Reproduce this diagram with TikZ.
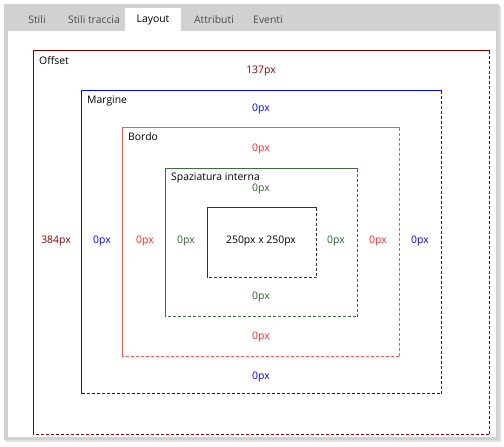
\documentclass[tikz,border=0pt]{standalone}
\usepackage{fontspec}
\setmainfont{Open Sans}
\begin{document}
\begin{tikzpicture}[x=1pt,y=-1pt,
  lbl/.style={font=\fontsize{10.4}{12}\selectfont,inner sep=0pt,anchor=center},
  ttl/.style={font=\fontsize{10.4}{12}\selectfont,inner sep=0pt,anchor=west,text=black},
  tab/.style={font=\fontsize{10.4}{12}\selectfont,inner sep=0pt,text=black!70},
  solidpart/.style={line width=1.2pt},
  dashpart/.style={line width=1.2pt,dash pattern=on 3pt off 2pt},
]
\definecolor{offc}{HTML}{800000}
\definecolor{marc}{HTML}{0000FF}
\definecolor{borc}{HTML}{FF2222}
\definecolor{borl}{HTML}{FF5555}
\definecolor{padc}{HTML}{2E5E2E}
\definecolor{padl}{HTML}{3F6F3F}
\definecolor{cntl}{HTML}{333333}
\useasboundingbox (0,0) rectangle (504,447);
\fill[white] (0,0) rectangle (504,447);
% window frame
\fill[black!12] (5,6) rectangle (501,442);
\fill[black!18] (4,4) rectangle (499,440);
\fill[white] (8,31) rectangle (496,437);
% tabs
\fill[white] (125,8) rectangle (181,31);
\node[tab] (t1) at (37,20) {Stili};
\node[tab] (t2) at (94,20) {Stili traccia};
\node[tab,text=black] (t3) at (153,20) {Layout};
\node[tab] (t4) at (214,20) {Attributi};
\node[tab] (t5) at (268,20) {Eventi};
% offset
\draw[solidpart,draw=offc] (33.5,434.5) -- (33.5,50.5) -- (489.5,50.5);
\draw[dashpart,draw=offc] (489.5,50.5) -- (489.5,434.5) -- (33.5,434.5);
% margin
\draw[solidpart,draw=marc] (81.5,393.5) -- (81.5,90.5) -- (441.5,90.5);
\draw[dashpart,draw=marc] (441.5,90.5) -- (441.5,393.5) -- (81.5,393.5);
% border
\draw[solidpart,draw=borl] (122.5,356.5) -- (122.5,127.5) -- (399.5,127.5);
\draw[dashpart,draw=borl] (399.5,127.5) -- (399.5,356.5) -- (122.5,356.5);
% padding
\draw[solidpart,draw=padl] (165.5,316.5) -- (165.5,168.5) -- (357.5,168.5);
\draw[dashpart,draw=padl] (357.5,168.5) -- (357.5,316.5) -- (165.5,316.5);
% content
\draw[solidpart,draw=cntl] (207.5,277.5) -- (207.5,207.5) -- (316.5,207.5);
\draw[dashpart,draw=cntl] (316.5,207.5) -- (316.5,277.5) -- (207.5,277.5);
% titles
\node[ttl] (to) at (39,61) {Offset};
\node[ttl] (tm) at (87,101) {Margine};
\node[ttl] (tb) at (128,137) {Bordo};
\node[ttl] (tp) at (171,178) {Spaziatura interna};
% values
\node[lbl,text=offc] (ot) at (261,71) {137px};
\node[lbl,text=offc] (ol) at (56,241) {384px};
\node[lbl,text=marc] (mt) at (261,109) {0px};
\node[lbl,text=marc] (ml) at (102,241) {0px};
\node[lbl,text=marc] (mr) at (420,241) {0px};
\node[lbl,text=marc] (mb) at (261,377) {0px};
\node[lbl,text=borc] (bt) at (261,149) {0px};
\node[lbl,text=borc] (bl) at (145,241) {0px};
\node[lbl,text=borc] (br) at (378,241) {0px};
\node[lbl,text=borc] (bb) at (261,337) {0px};
\node[lbl,text=padc] (pt) at (261,189) {0px};
\node[lbl,text=padc] (pl) at (186,241) {0px};
\node[lbl,text=padc] (pr) at (336,241) {0px};
\node[lbl,text=padc] (pb) at (261,297) {0px};
\node[lbl,text=black] (c) at (261,241) {250px x 250px};
\end{tikzpicture}
\end{document}
